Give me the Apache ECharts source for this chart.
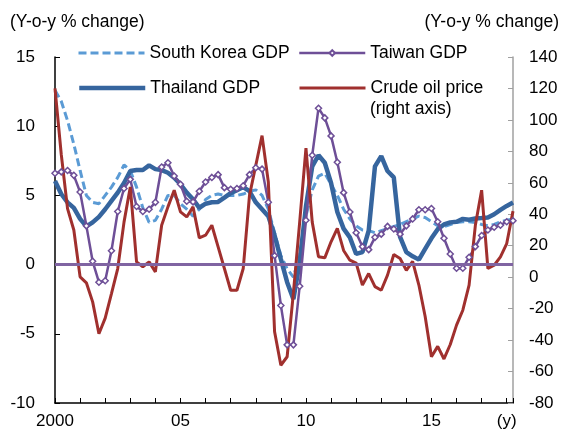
<!DOCTYPE html>
<html>
<head>
<meta charset="utf-8">
<script src="https://cdn.jsdelivr.net/npm/echarts@6/dist/echarts.min.js"></script>
<style>
  html, body { margin: 0; padding: 0; background: #fff; }
  #main { width: 561px; height: 430px; }
</style>
</head>
<body>
<div id="main"></div>
<script>
// quarterly, 2000Q1 .. 2018Q2
var quarters = [];
for (var y = 2000; y <= 2018; y++) {
  for (var q = 1; q <= 4; q++) {
    if (quarters.length < 74) quarters.push(y + 'Q' + q);
  }
}
// labels shown on the time axis
var yearLabels = { '2000Q1': '2000', '2005Q1': '05', '2010Q1': '10', '2015Q1': '15', '2018Q1': '(y)' };

// y-o-y % change (left axis)
var southKorea = [12.6, 11.8, 10.4, 8.7, 6.8, 5.0, 4.5, 4.4, 5.0, 5.6,
  6.3, 7.2, 6.8, 5.6, 4.1, 3.05, 3.2, 4.0, 5.0, 5.0,
  4.4, 4.0, 3.5, 4.0, 4.7, 5.0, 5.1, 5.0, 5.0, 5.0,
  5.1, 5.3, 5.4, 5.0, 4.0, 2.3, 0.65, -0.3, -0.9, 0.65,
  3.5, 5.4, 6.4, 6.6, 5.8, 5.0, 4.0, 3.3, 2.8, 2.5,
  2.45, 2.3, 2.45, 2.6, 2.75, 2.9, 3.1, 3.3, 3.5, 3.4,
  3.1, 2.8, 2.75, 2.9, 3.05, 3.1, 3.1, 3.05, 2.9, 2.8,
  2.9, 3.1, 3.2, 3.3];
var taiwan = [6.6, 6.7, 6.8, 6.45, 5.25, 2.8, 0.24, -1.27, -1.17, 1.0,
  3.84, 5.5, 6.16, 4.2, 3.84, 4.0, 4.5, 7.05, 7.36, 6.4,
  5.8, 4.58, 4.53, 5.3, 5.97, 6.3, 6.5, 5.56, 5.44, 5.5,
  5.7, 6.5, 7.0, 6.9, 4.5, 0.65, -2.95, -5.8, -5.8, -1.56,
  3.2, 7.9, 11.3, 10.6, 9.3, 7.4, 5.2, 3.8, 2.3, 1.3,
  1.08, 1.97, 2.2, 2.76, 2.57, 2.2, 2.8, 3.3, 3.96, 3.96,
  4.05, 3.1, 1.9, 0.77, -0.26, -0.26, 0.53, 1.3, 2.1, 2.5,
  2.7, 2.85, 3.1, 3.17];
var thailand = [6.04, 5.1, 4.5, 4.1, 3.3, 2.76, 3.05, 3.45, 4.0, 4.6,
  5.2, 5.9, 6.76, 6.83, 6.83, 7.17, 6.9, 6.83, 6.64, 6.28,
  5.8, 5.2, 4.72, 4.1, 4.4, 4.5, 4.53, 4.84, 5.16, 5.37,
  5.6, 5.3, 4.5, 4.0, 3.5, 2.1, 0.4, -1.27, -2.5, 0.17,
  4.2, 7.1, 7.9, 7.36, 5.9, 3.8, 2.6, 1.97, 0.77, 0.9,
  2.45, 7.1, 7.84, 6.76, 6.3, 2.0, 0.9, 0.6, 0.36, 1.13,
  1.9, 2.56, 2.9, 3.05, 3.1, 3.3, 3.24, 3.33, 3.36, 3.4,
  3.64, 3.96, 4.24, 4.48];
// crude oil price, y-o-y % (right axis)
var crudeOil = [120, 78, 43.6, 30, 0.2, -3.6, -15.7, -36, -26, -10.4,
  5.5, 35, 57.4, 9.7, 6.6, 9.7, 3.4, 33, 44.7, 55.3,
  41.5, 38.3, 44.7, 25, 26.7, 33, 19.3, 5.5, -8.3, -8.3,
  5.5, 52, 71, 90, 60.6, -34.7, -56, -50.6, -10, 35,
  82, 35, 13, 12.3, 22.5, 31, 17, 10.8, 9, -5,
  2.3, -6, -8.3, 1.3, 14.4, 11.9, 4.4, 10, -5, -25,
  -50.6, -44, -52, -42.8, -30.5, -21, -5, 33, 55.3, 5.5,
  7.6, 12.9, 21.4, 42];

var FONT = 'Liberation Sans, Arial, sans-serif';
var myChart = echarts.init(document.getElementById('main'));

function legendAt(name, left, top, lineWidth, noMarker) {
  var lg = {
    data: [name],
    left: left,
    top: top,
    itemWidth: 66,
    itemHeight: 7,
    padding: 0,
    selectedMode: false,
    lineStyle: { width: lineWidth },
    textStyle: { fontFamily: FONT, fontSize: 17.5, color: '#000', lineHeight: 20 }
  };
  // lines without markers: hide the legend symbol, keep the line
  if (noMarker) lg.itemStyle = { opacity: 0 };
  return lg;
}

var option = {
  animation: false,
  backgroundColor: '#fff',
  textStyle: { fontFamily: FONT },
  legend: [
    legendAt('South Korea GDP', 77, 43, 3, true),
    legendAt('Thailand GDP', 77, 78, 4.5, true),
    legendAt('Taiwan GDP', 298, 43, 2.5, false),
    legendAt('Crude oil price', 298, 78, 3, true)
  ],
  graphic: [
    { type: 'text', style: { text: '(Y-o-y % change)', x: 10, y: 22, verticalAlign: 'middle', font: '17.5px ' + FONT, fill: '#000' } },
    { type: 'text', style: { text: '(Y-o-y % change)', x: 559, y: 22, align: 'right', verticalAlign: 'middle', font: '17.5px ' + FONT, fill: '#000' } },
    { type: 'text', style: { text: '(right axis)', x: 370, y: 109, verticalAlign: 'middle', font: '17.5px ' + FONT, fill: '#000' } }
  ],
  grid: { left: 55, right: 48, top: 57, bottom: 27 },
  xAxis: {
    type: 'category',
    data: quarters,
    boundaryGap: false,
    axisLine: { onZero: false, lineStyle: { color: '#000', width: 1.5 } },
    axisTick: { inside: true, length: 5, interval: 3, lineStyle: { color: '#000' } },
    axisLabel: {
      interval: 0,
      margin: 10,
      fontSize: 17,
      color: '#000',
      formatter: function (v) { return yearLabels[v] || ''; }
    },
    splitLine: { show: false }
  },
  yAxis: [
    {
      type: 'value',
      min: -10, max: 15, interval: 5,
      axisLine: { show: true, lineStyle: { color: '#000', width: 1.5 } },
      axisTick: { show: true, inside: true, length: 5, lineStyle: { color: '#000' } },
      axisLabel: { margin: 20, fontSize: 17, color: '#000' },
      splitLine: { show: false }
    },
    {
      type: 'value',
      position: 'right',
      min: -80, max: 140, interval: 20,
      axisLine: { show: true, lineStyle: { color: '#a0a0a0', width: 1.5 } },
      axisTick: { show: true, inside: true, length: 5, lineStyle: { color: '#a0a0a0' } },
      axisLabel: { margin: 16, fontSize: 17, color: '#000' },
      splitLine: { show: false }
    }
  ],
  series: [
    {
      name: 'South Korea GDP',
      type: 'line',
      data: southKorea,
      symbol: 'none',
      color: '#5b9bd5',
      lineStyle: { color: '#5b9bd5', width: 3, type: [8, 4] }
    },
    {
      name: 'Thailand GDP',
      type: 'line',
      data: thailand,
      symbol: 'none',
      color: '#36659e',
      lineStyle: { color: '#36659e', width: 4.5 }
    },
    {
      name: 'Taiwan GDP',
      type: 'line',
      data: taiwan,
      symbol: 'diamond',
      symbolSize: 6,
      color: '#6e4f97',
      itemStyle: { color: '#fff', borderColor: '#6e4f97', borderWidth: 1.5 },
      lineStyle: { color: '#6e4f97', width: 2.5 },
      markLine: {
        silent: true,
        symbol: 'none',
        label: { show: false },
        lineStyle: { color: '#8064a2', width: 3, type: 'solid' },
        data: [{ yAxis: 0 }]
      }
    },
    {
      name: 'Crude oil price',
      type: 'line',
      yAxisIndex: 1,
      data: crudeOil,
      symbol: 'none',
      color: '#a0302e',
      lineStyle: { color: '#a0302e', width: 3 }
    }
  ]
};

myChart.setOption(option);
</script>
</body>
</html>
